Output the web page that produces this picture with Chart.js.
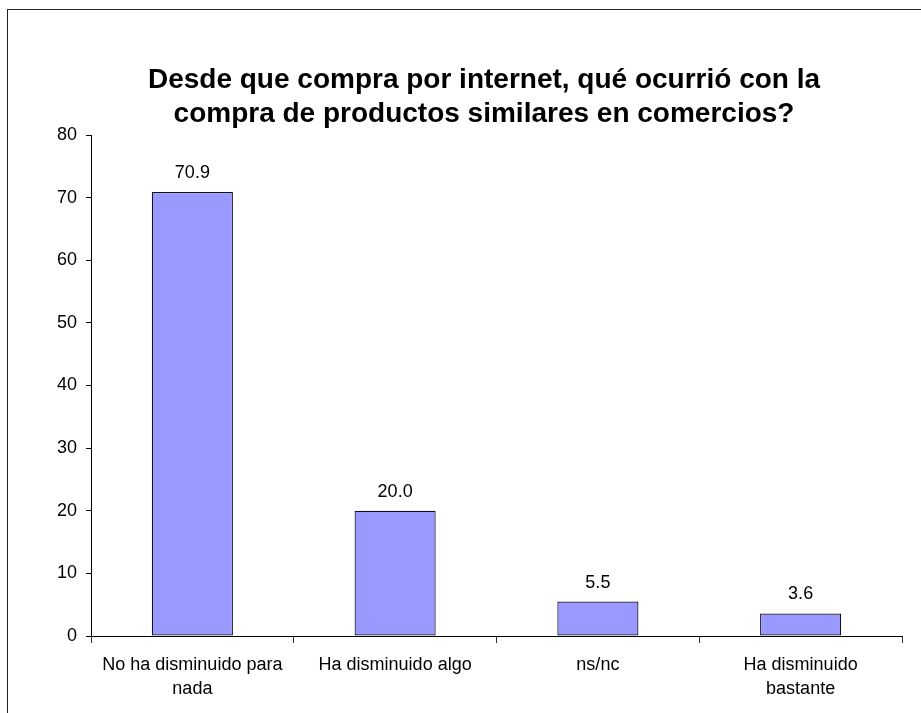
<!DOCTYPE html>
<html>
<head>
<meta charset="utf-8">
<script src="https://cdn.jsdelivr.net/npm/chart.js@4.4.1/dist/chart.umd.min.js"></script>
<style>
  html, body { margin: 0; padding: 0; background: #fff; }
  #wrap { width: 921px; height: 713px; }
</style>
</head>
<body>
<div id="wrap"><canvas id="chart" width="921" height="713"></canvas></div>
<script>
// Survey answers and their percentages
const categories = [
  ["No ha disminuido para", "nada"],
  "Ha disminuido algo",
  "ns/nc",
  ["Ha disminuido", "bastante"],
];
const percentages = [70.9, 20.0, 5.5, 3.6];
const yTicks = [0, 10, 20, 30, 40, 50, 60, 70, 80];
const titleLines = [
  "Desde que compra por internet, qué ocurrió con la",
  "compra de productos similares en comercios?",
];

const FONT = "'Liberation Sans', Arial, sans-serif";

// Outer frame plus the two-line bold title
const frameAndTitle = {
  id: "frameAndTitle",
  beforeDraw(chart) {
    const ctx = chart.ctx;
    ctx.save();
    ctx.fillStyle = "#fff";
    ctx.fillRect(0, 0, chart.width, chart.height);
    ctx.strokeStyle = "#222";
    ctx.lineWidth = 1;
    ctx.strokeRect(7.5, 9.5, chart.width + 20, chart.height + 20);
    ctx.restore();
  },
  afterDraw(chart) {
    const ctx = chart.ctx;
    ctx.save();
    ctx.fillStyle = "#000";
    ctx.font = "bold 28px " + FONT;
    ctx.textAlign = "center";
    ctx.textBaseline = "alphabetic";
    titleLines.forEach((line, i) => {
      ctx.fillText(line, 484, 88 + i * 34);
    });
    ctx.restore();
  },
};

// Value printed above each bar
const barValues = {
  id: "barValues",
  afterDatasetsDraw(chart) {
    const ctx = chart.ctx;
    const meta = chart.getDatasetMeta(0);
    ctx.save();
    ctx.fillStyle = "#000";
    ctx.font = "18px " + FONT;
    ctx.textAlign = "center";
    ctx.textBaseline = "alphabetic";
    meta.data.forEach((bar, i) => {
      ctx.fillText(percentages[i].toFixed(1), bar.x, bar.y - 14);
    });
    ctx.restore();
  },
};

const ctx = document.getElementById("chart").getContext("2d");
const chart = new Chart(ctx, {
  type: "bar",
  data: {
    labels: categories,
    datasets: [
      {
        data: percentages,
        backgroundColor: "#9999FF",
        borderColor: "#101020",
        borderWidth: 1.2,
        borderSkipped: false,
        categoryPercentage: 1.0,
        barPercentage: 0.4,
      },
    ],
  },
  options: {
    responsive: false,
    animation: false,
    layout: {
      padding: { top: 135, right: 19, left: 0, bottom: 0 },
    },
    plugins: {
      legend: { display: false },
      title: { display: false },
      tooltip: { enabled: false },
    },
    scales: {
      x: {
        grid: {
          offset: true,
          drawOnChartArea: false,
          tickLength: 7,
          color: "#333",
        },
        border: { color: "#000", width: 1 },
        ticks: {
          color: "#000",
          font: { family: FONT, size: 18, lineHeight: 1.28 },
          padding: 11,
          maxRotation: 0,
          autoSkip: false,
        },
        afterFit(scale) {
          scale.height = 77;
        },
      },
      y: {
        min: 0,
        max: 80,
        afterBuildTicks(scale) {
          scale.ticks = yTicks.map((v) => ({ value: v }));
        },
        grid: {
          drawOnChartArea: false,
          tickLength: 5,
          color: "#000",
        },
        border: { color: "#000", width: 1 },
        ticks: {
          color: "#000",
          font: { family: FONT, size: 18 },
          padding: 9,
        },
        afterFit(scale) {
          scale.width = 91;
        },
      },
    },
  },
  plugins: [frameAndTitle, barValues],
});
</script>
</body>
</html>
